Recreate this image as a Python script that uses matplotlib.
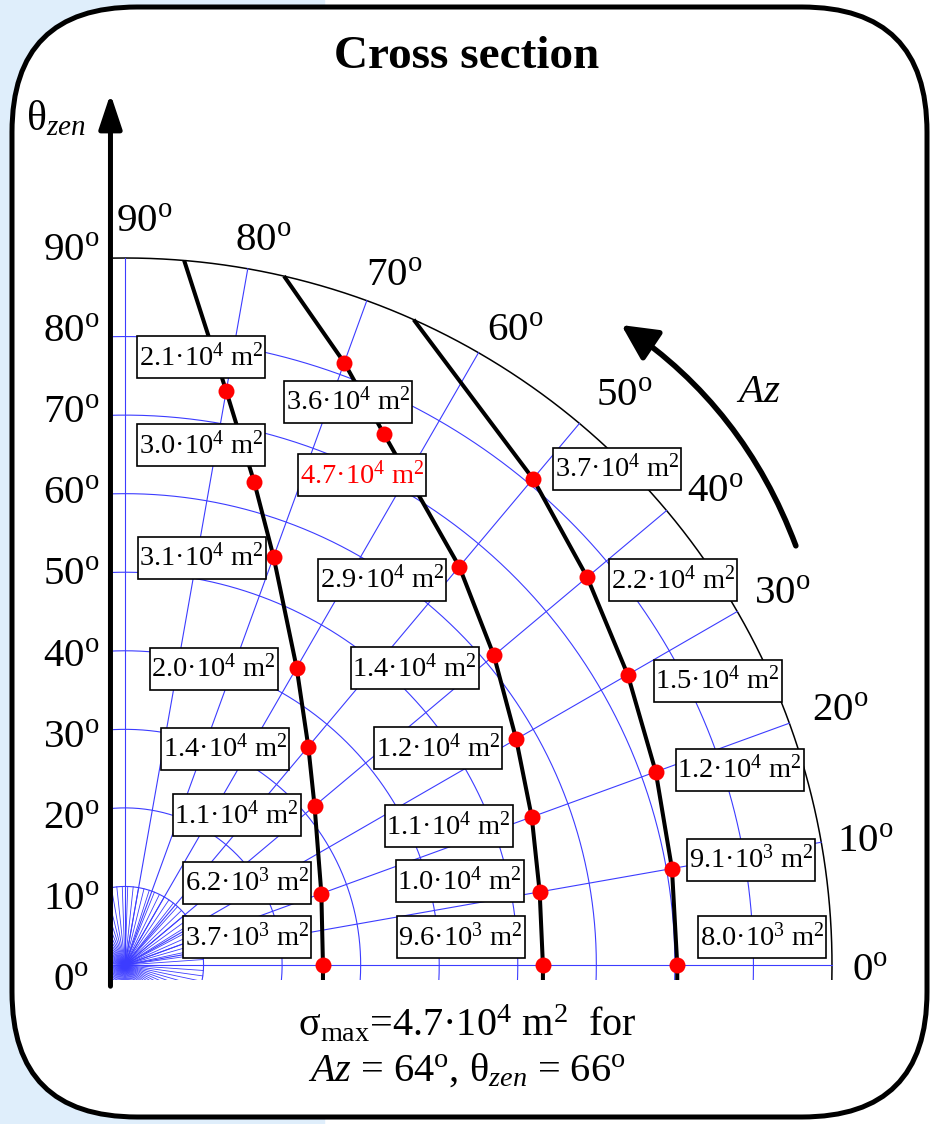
import numpy as np
import matplotlib.pyplot as plt
from matplotlib.patches import FancyBboxPatch, Rectangle, FancyArrowPatch

plt.rcParams['font.family'] = ['Liberation Serif', 'DejaVu Serif']
plt.rcParams['mathtext.fontset'] = 'custom'
plt.rcParams['mathtext.rm'] = 'Liberation Serif'
plt.rcParams['mathtext.it'] = 'Liberation Serif:italic'
plt.rcParams['mathtext.bf'] = 'Liberation Serif:bold'

# --- data: marked points on the three curves (azimuth deg, radial deg) and cross sections (m^2)
az_1 = [0, 20, 40, 50, 60, 70, 75, 80]
r_1 = [25.2, 26.6, 31.5, 36.3, 43.7, 55.3, 63.6, 74.2]
sig_1 = [3.7e3, 6.2e3, 1.1e4, 1.4e4, 2.0e4, 3.1e4, 3.0e4, 2.1e4]

az_2 = [0, 10, 20, 30, 40, 50, 64, 70]
r_2 = [53.2, 53.6, 55.1, 57.5, 61.3, 66.2, 75.2, 81.6]
sig_2 = [9.6e3, 1.0e4, 1.1e4, 1.2e4, 1.4e4, 2.9e4, 4.7e4, 3.6e4]

az_3 = [0, 10, 20, 30, 40, 50]
r_3 = [70.3, 70.7, 71.9, 73.9, 76.8, 80.8]
sig_3 = [8.0e3, 9.1e3, 1.2e4, 1.5e4, 2.2e4, 3.7e4]

# azimuth where each curve meets the outer rim (r = 90)
rim_az = [85.2, 77.0, 65.9]

az_ticks = [0, 10, 20, 30, 40, 50, 60, 70, 80, 90]
zen_ticks = [0, 10, 20, 30, 40, 50, 60, 70, 80, 90]

# label offsets (pixels, x right / y down) from each point to its box centre
offs_1 = [(-76, -28), (-74, -11), (-78, 9), (-83, 2), (-83, 1), (-72, 1), (-53, -37), (-25, -34)]
offs_2 = [(-82, -28), (-80, -11), (-83, 9), (-78, 9), (-79, 13), (-77, 13), (-22, 41), (4, 39)]
offs_3 = [(85, -28), (79, -9), (84, -2), (90, 6), (86, 3), (84, -10)]

# where the azimuth tick labels sit (angle, radius)
az_lab_pos = [(-0.5, 94.9), (9.4, 95.5), (19.5, 96.6), (29.4, 96.0), (38.7, 96.3),
              (48.7, 96.3), (58.4, 94.7), (68.6, 94.1), (79.2, 93.8), (88.5, 94.5)]

W, H = 933, 1124
X0, Y0, S = 125, 965, 707 / 90.0   # origin in pixels, pixels per degree
BW, BH = 128, 42                    # label box size in pixels

fig = plt.figure(figsize=(W / 100, H / 100), dpi=100)

# background + rounded frame, in pixel coordinates
bg = fig.add_axes([0, 0, 1, 1])
bg.set_xlim(0, W)
bg.set_ylim(H, 0)
bg.axis('off')
bg.add_patch(Rectangle((0, 0), 324, H, color='#dfeefb', zorder=0))
bg.add_patch(FancyBboxPatch((12, 7), 915, 1110, boxstyle='round,pad=0,rounding_size=125',
                            fc='white', ec='black', lw=3.6, zorder=1))
bg.text(467, 68, 'Cross section', ha='center', va='baseline', fontsize=34, fontweight='bold')
bg.text(467, 1036, r'σ$_{\rm max}$=4.7·10$^4$ m$^2$  for', ha='center', va='baseline', fontsize=29)
bg.text(467, 1081, r'$Az$ = 64$^{\rm o}$, θ$_{zen}$ = 66$^{\rm o}$', ha='center', va='baseline',
        fontsize=29)

# diagram axes in degree units, origin at (X0, Y0)
ax = fig.add_axes([0, 0, 1, 1])
ax.patch.set_alpha(0)
ax.set_xlim(-X0 / S, (W - X0) / S)
ax.set_ylim((Y0 - H) / S, Y0 / S)
ax.axis('off')

clip = Rectangle((-1.5, -1.9), 110, 110, transform=ax.transData, visible=False)
ax.add_patch(clip)


def pol(az, r):
    a = np.radians(np.asarray(az, float))
    return np.asarray(r, float) * np.cos(a), np.asarray(r, float) * np.sin(a)


blue = '#3c3cff'
t = np.linspace(-30, 120, 600)
for rr in range(10, 90, 10):
    x, y = pol(t, np.full_like(t, rr))
    ln, = ax.plot(x, y, color=blue, lw=0.8, zorder=2)
    ln.set_clip_path(clip)
x, y = pol(t, np.full_like(t, 90))
ln, = ax.plot(x, y, color='black', lw=1.1, zorder=2)
ln.set_clip_path(clip)

for a in az_ticks:
    x, y = pol([a, a], [0, 90])
    ax.plot(x, y, color=blue, lw=0.8, zorder=2)

# dense fan of rays near the origin, ending on the first circle
for a in np.arange(-180, 180, 4):
    x, y = pol([a, a], [0, 10])
    ln, = ax.plot(x, y, color=blue, lw=0.6, zorder=2)
    ln.set_clip_path(clip)

# curves, points and labels
smax = max(max(sig_1), max(sig_2), max(sig_3))
curves = [(az_1, r_1, sig_1, offs_1), (az_2, r_2, sig_2, offs_2), (az_3, r_3, sig_3, offs_3)]
for k, (az, rr, sig, offs) in enumerate(curves):
    x, y = pol(list(az) + [rim_az[k]], list(rr) + [90])
    xs = np.concatenate([[x[0]], x])
    ys = np.concatenate([[-5], y])
    ln, = ax.plot(xs, ys, color='black', lw=2.9, zorder=4, solid_capstyle='butt')
    ln.set_clip_path(clip)
    px, py = pol(az, rr)
    ax.plot(px, py, 'o', color='red', ms=11.5, mec='none', zorder=5)
    for i in range(len(az)):
        m, e = f'{sig[i]:.1e}'.split('e')
        txt = f'{m}·10$^{int(e)}$ m$^2$'
        cx = px[i] + offs[i][0] / S
        cy = py[i] - offs[i][1] / S
        ax.add_patch(Rectangle((cx - BW / 2 / S, cy - BH / 2 / S), BW / S, BH / S,
                               fc='white', ec='black', lw=1.2, zorder=6))
        ax.text(cx, cy, txt, ha='center', va='center', fontsize=20.5, zorder=7,
                color='red' if sig[i] == smax else 'black')

# azimuth labels around the rim
for a, (la, lr) in zip(az_ticks, az_lab_pos):
    x, y = pol(la, lr)
    ax.text(x, y, f'{a}$^{{\\rm o}}$', ha='center', va='center', fontsize=29.5)

# zenith labels on the vertical axis
for z in zen_ticks:
    ax.text(-6.9, z * 1.0325 - 2.1, f'{z}$^{{\\rm o}}$', ha='center', va='center', fontsize=29.5)

# vertical axis with arrow
ax.annotate('', xy=(-1.85, 110.9), xytext=(-1.85, -2.7),
            arrowprops=dict(arrowstyle='-|>,head_length=0.6,head_width=0.2', lw=3.6,
                            color='black', mutation_scale=35, shrinkA=0, shrinkB=0))
ax.text(-12.6, 107.7, r'θ$_{zen}$', ha='left', va='center', fontsize=30)

# azimuth direction arrow
p0 = pol(32.0, 100.7)
p1 = pol(52.2, 103.1)
ax.add_patch(FancyArrowPatch(p0, p1, connectionstyle='arc3,rad=0.16',
                             arrowstyle='-|>,head_length=0.6,head_width=0.3',
                             mutation_scale=36, lw=4.0, color='black', shrinkA=0, shrinkB=0))
ax.text((758 - X0) / S, (Y0 - 393) / S, '$Az$', ha='center', va='center', fontsize=29.5)

fig.savefig('out.png', dpi=100)
